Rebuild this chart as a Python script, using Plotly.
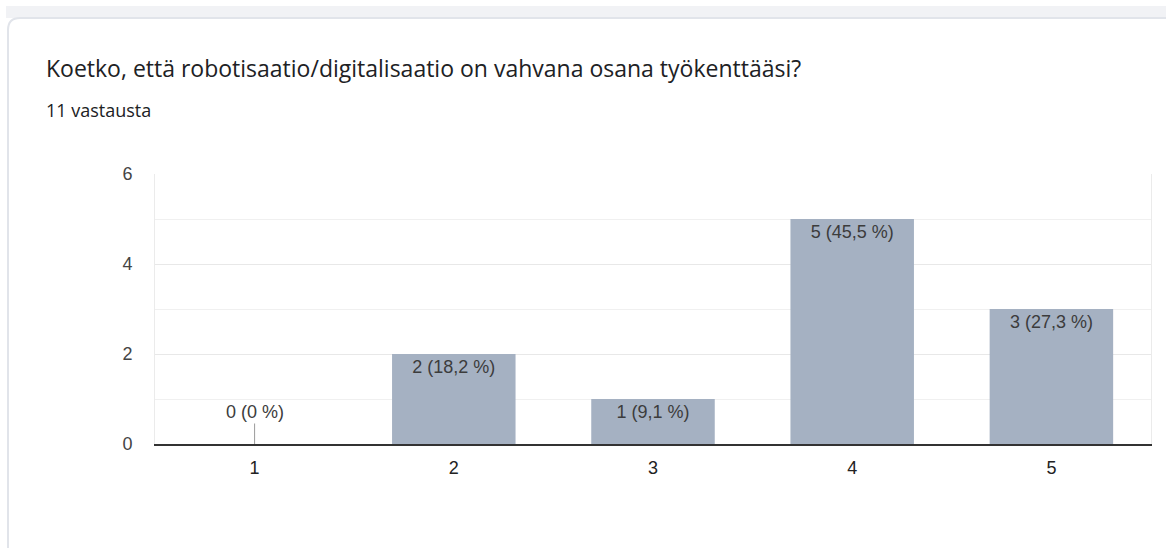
import plotly.graph_objects as go

categories = ["1", "2", "3", "4", "5"]
counts = [0, 2, 1, 5, 3]
labels = ["0 (0 %)", "2 (18,2 %)", "1 (9,1 %)", "5 (45,5 %)", "3 (27,3 %)"]
y_ticks = [0, 2, 4, 6]

title = "Koetko, että robotisaatio/digitalisaatio on vahvana osana työkenttääsi?"
subtitle = "11 vastausta"

W, H = 1166, 548
L, R, T, B = 155, 15, 174, 104
PW, PH = W - L - R, H - T - B
CHART_FONT = "Liberation Sans, Arial"


def px(x):
    return (x - L) / PW


def py(y):
    return (H - B - y) / PH


fig = go.Figure()
fig.add_trace(go.Bar(
    x=categories,
    y=counts,
    text=[t if c > 0 else "" for t, c in zip(labels, counts)],
    textposition="inside",
    insidetextanchor="end",
    textangle=0,
    constraintext="none",
    textfont=dict(family=CHART_FONT, size=18, color="#3c3c3c"),
    marker=dict(color="#a5b1c2", line=dict(width=0)),
    hoverinfo="skip",
))

# zero-value bars are shown as a thin stem with the label above it
for i, (c, t) in enumerate(zip(counts, labels)):
    if c == 0:
        fig.add_annotation(
            x=i, y=0, text=t, showarrow=True, arrowhead=0, arrowwidth=1,
            arrowcolor="#9a9a9a", ax=0, ay=-32, standoff=0,
            font=dict(family=CHART_FONT, size=18, color="#3c3c3c"),
        )

# page background band and card outline
fig.add_shape(type="rect", xref="paper", yref="paper",
              x0=px(6), x1=px(W), y0=py(6), y1=py(18),
              fillcolor="#f1f2f5", line=dict(width=0), layer="below")
fig.add_shape(type="path", xref="paper", yref="paper",
              path=(f"M {px(8)},{py(H)} L {px(8)},{py(30)} "
                    f"Q {px(8)},{py(18)} {px(20)},{py(18)} L {px(W)},{py(18)}"),
              line=dict(color="#e1e4ea", width=2), layer="below")

fig.add_annotation(x=px(44), y=py(68), xref="paper", yref="paper",
                   text=title, showarrow=False, xanchor="left", yanchor="middle",
                   font=dict(family="Open Sans, Roboto", size=23, color="#202124"))
fig.add_annotation(x=px(44), y=py(110), xref="paper", yref="paper",
                   text=subtitle, showarrow=False, xanchor="left", yanchor="middle",
                   font=dict(family="Open Sans, Roboto", size=18, color="#202124"))

fig.update_layout(
    width=W, height=H,
    margin=dict(l=L, r=R, t=T, b=B),
    paper_bgcolor="white",
    plot_bgcolor="white",
    bargap=0.38,
    showlegend=False,
    font=dict(family=CHART_FONT, size=18, color="#444444"),
)
fig.update_xaxes(
    type="category",
    showline=True, linecolor="#333333", linewidth=2,
    showgrid=False, ticks="", ticklabelstandoff=6,
    tickfont=dict(family=CHART_FONT, size=18, color="#222222"),
)
fig.update_yaxes(
    range=[0, 6], tickvals=y_ticks, showgrid=True, gridcolor="#e8e8e8",
    minor=dict(dtick=1, showgrid=True, gridcolor="#f0f0f0"),
    showline=True, mirror=True, linecolor="#ebebeb", linewidth=1,
    zeroline=False, ticks="", ticklabelstandoff=18,
    tickfont=dict(family=CHART_FONT, size=18, color="#444444"),
)

fig.write_html("out.html", config={"displayModeBar": False},
               post_script="document.body.style.margin='0';")
